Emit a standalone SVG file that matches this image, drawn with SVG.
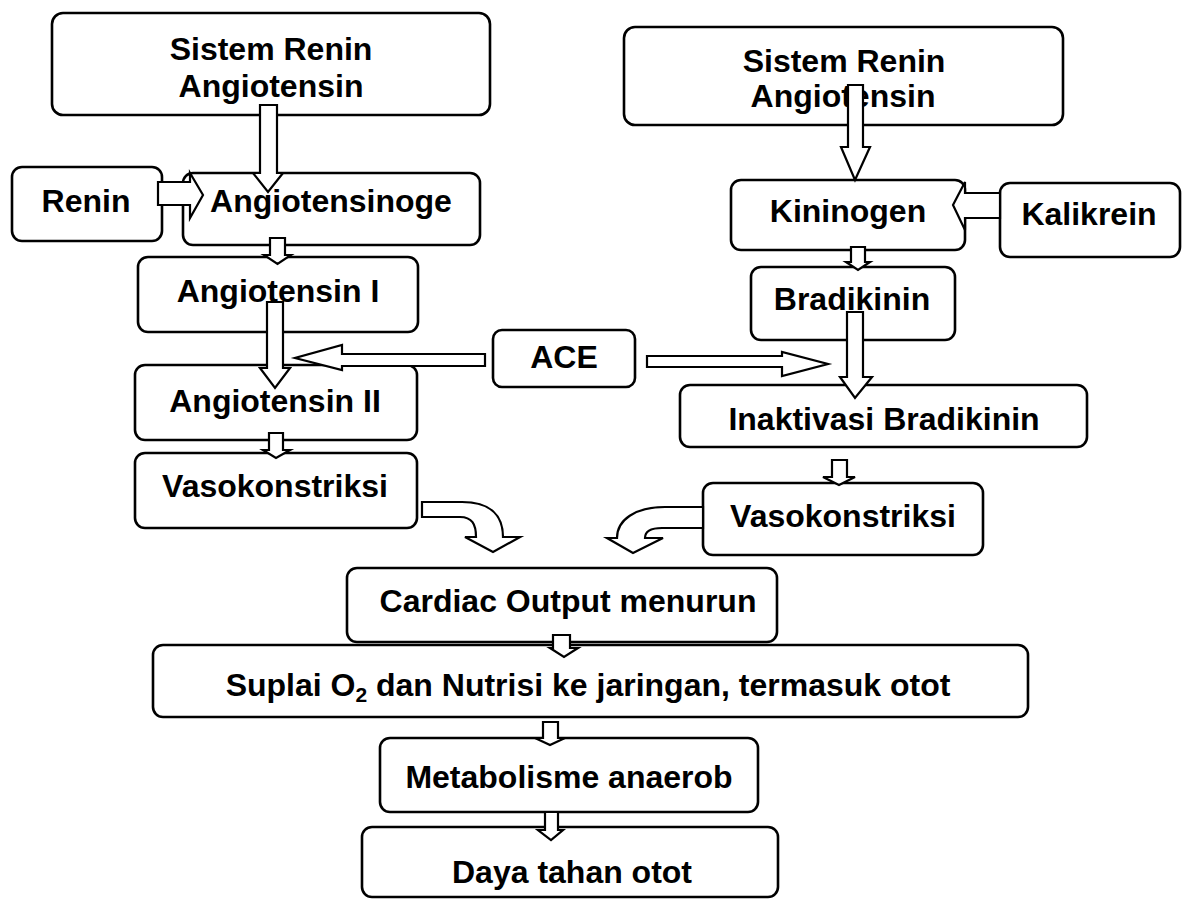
<svg xmlns="http://www.w3.org/2000/svg" width="1188" height="899" viewBox="0 0 1188 899">
<style>
.box{fill:#fff;stroke:#000;stroke-width:2.6}
.arr{fill:#fff;stroke:#000;stroke-width:2.2;stroke-linejoin:miter}
text{font-family:"Liberation Sans",Arial,sans-serif;font-weight:bold;font-size:32px;fill:#000;text-anchor:middle}
</style>
<rect width="1188" height="899" fill="#fff"/>
<g id="n-sra-left"><rect class="box" x="52" y="13" width="438" height="102" rx="11"/><text x="271" y="60">Sistem Renin</text><text x="271" y="97">Angiotensin</text></g>
<g id="n-renin"><rect class="box" x="12" y="167" width="150" height="74" rx="10"/><text x="86" y="212">Renin</text></g>
<g id="n-angiotensinogen"><rect class="box" x="183" y="173" width="297" height="72" rx="10"/><text x="331" y="212">Angiotensinoge</text></g>
<g id="n-ang1"><rect class="box" x="138" y="257" width="280" height="75" rx="10"/><text x="278" y="302">Angiotensin I</text></g>
<g id="n-ang2"><rect class="box" x="135" y="365" width="282" height="75" rx="10"/><text x="275" y="412">Angiotensin II</text></g>
<g id="n-vaso-left"><rect class="box" x="135" y="453" width="282" height="75" rx="10"/><text x="275" y="497">Vasokonstriksi</text></g>
<g id="n-ace"><rect class="box" x="493" y="330" width="142" height="57" rx="9"/><text x="564" y="368">ACE</text></g>
<g id="n-sra-right"><rect class="box" x="624" y="27" width="439" height="98" rx="11"/><text x="844" y="72">Sistem Renin</text><text x="843" y="107">Angiotensin</text></g>
<g id="n-kininogen"><rect class="box" x="731" y="180" width="234" height="70" rx="10"/><text x="848" y="222">Kininogen</text></g>
<g id="n-kalikrein"><rect class="box" x="1000" y="183" width="180" height="74" rx="10"/><text x="1089" y="225">Kalikrein</text></g>
<g id="n-bradikinin"><rect class="box" x="751" y="267" width="204" height="73" rx="10"/><text x="852" y="310">Bradikinin</text></g>
<g id="n-inaktivasi"><rect class="box" x="680" y="385" width="407" height="62" rx="10"/><text x="884" y="430">Inaktivasi Bradikinin</text></g>
<g id="n-vaso-right"><rect class="box" x="703" y="483" width="280" height="72" rx="10"/><text x="843" y="527">Vasokonstriksi</text></g>
<g id="n-cardiac"><rect class="box" x="347" y="568" width="430" height="74" rx="10"/><text x="568" y="612">Cardiac Output menurun</text></g>
<g id="n-suplai"><rect class="box" x="153" y="645" width="875" height="72" rx="10"/><text x="588" y="696">Suplai O<tspan font-size="21" dy="6">2</tspan><tspan dy="-6"> dan Nutrisi ke jaringan, termasuk otot</tspan></text></g>
<g id="n-metabolisme"><rect class="box" x="380" y="738" width="378" height="74" rx="10"/><text x="569" y="788">Metabolisme anaerob</text></g>
<g id="n-daya"><rect class="box" x="362" y="827" width="416" height="70" rx="10"/><text x="572" y="883">Daya tahan otot</text></g>
<g id="connectors">
<polygon class="arr" points="260,105 277,105 277,173 283,173 268,192 253,173 260,173"/>
<polygon class="arr" points="158,182 190,182 190,173 203,195 190,218 190,205 158,205"/>
<polygon class="arr" points="270,238 285,238 285,255 291,255 277.5,264 264,255 270,255"/>
<polygon class="arr" points="267,302 283,302 283,368 290,368 275,388 260,368 267,368"/>
<polygon class="arr" points="485,354 485,366 342,366 342,370 295,358 342,345 342,354"/>
<polygon class="arr" points="269,433 283,433 283,450 290,450 276,458 263,450 269,450"/>
<path class="arr" d="M422,502 L462,502 C490,502 503,515 503,537 L520,537 L493,552 L465,537 L476,537 C476,524 472,517 460,517 L422,517 Z"/>
<polygon class="arr" points="848,85 863,85 863,147 870,147 855,180 841,147 848,147"/>
<polygon class="arr" points="1000,193 1000,218 965,218 965,230 953,205 965,182 965,193"/>
<polygon class="arr" points="851,247 865,247 865,262 870,262 858,270 846,262 851,262"/>
<polygon class="arr" points="647,356 782,356 782,352 828,364 782,376 782,367 647,367"/>
<polygon class="arr" points="847,312 863,312 863,377 872,377 855,398 840,377 847,377"/>
<polygon class="arr" points="832,460 847,460 847,477 855,477 839,485 823,477 832,477"/>
<path class="arr" d="M703,507 L665,507 C635,507 617,520 617,538 L607,538 L633,553 L663,538 L645,538 C645,532 650,528 662,528 L703,528 Z"/>
<polygon class="arr" points="553,635 570,635 570,648 578,648 564,657 550,648 553,648"/>
<polygon class="arr" points="543,722 558,722 558,738 565,738 550,745 535,738 543,738"/>
<polygon class="arr" points="545,812 558,812 558,830 563,830 551,840 538,830 545,830"/>
</g>
</svg>
